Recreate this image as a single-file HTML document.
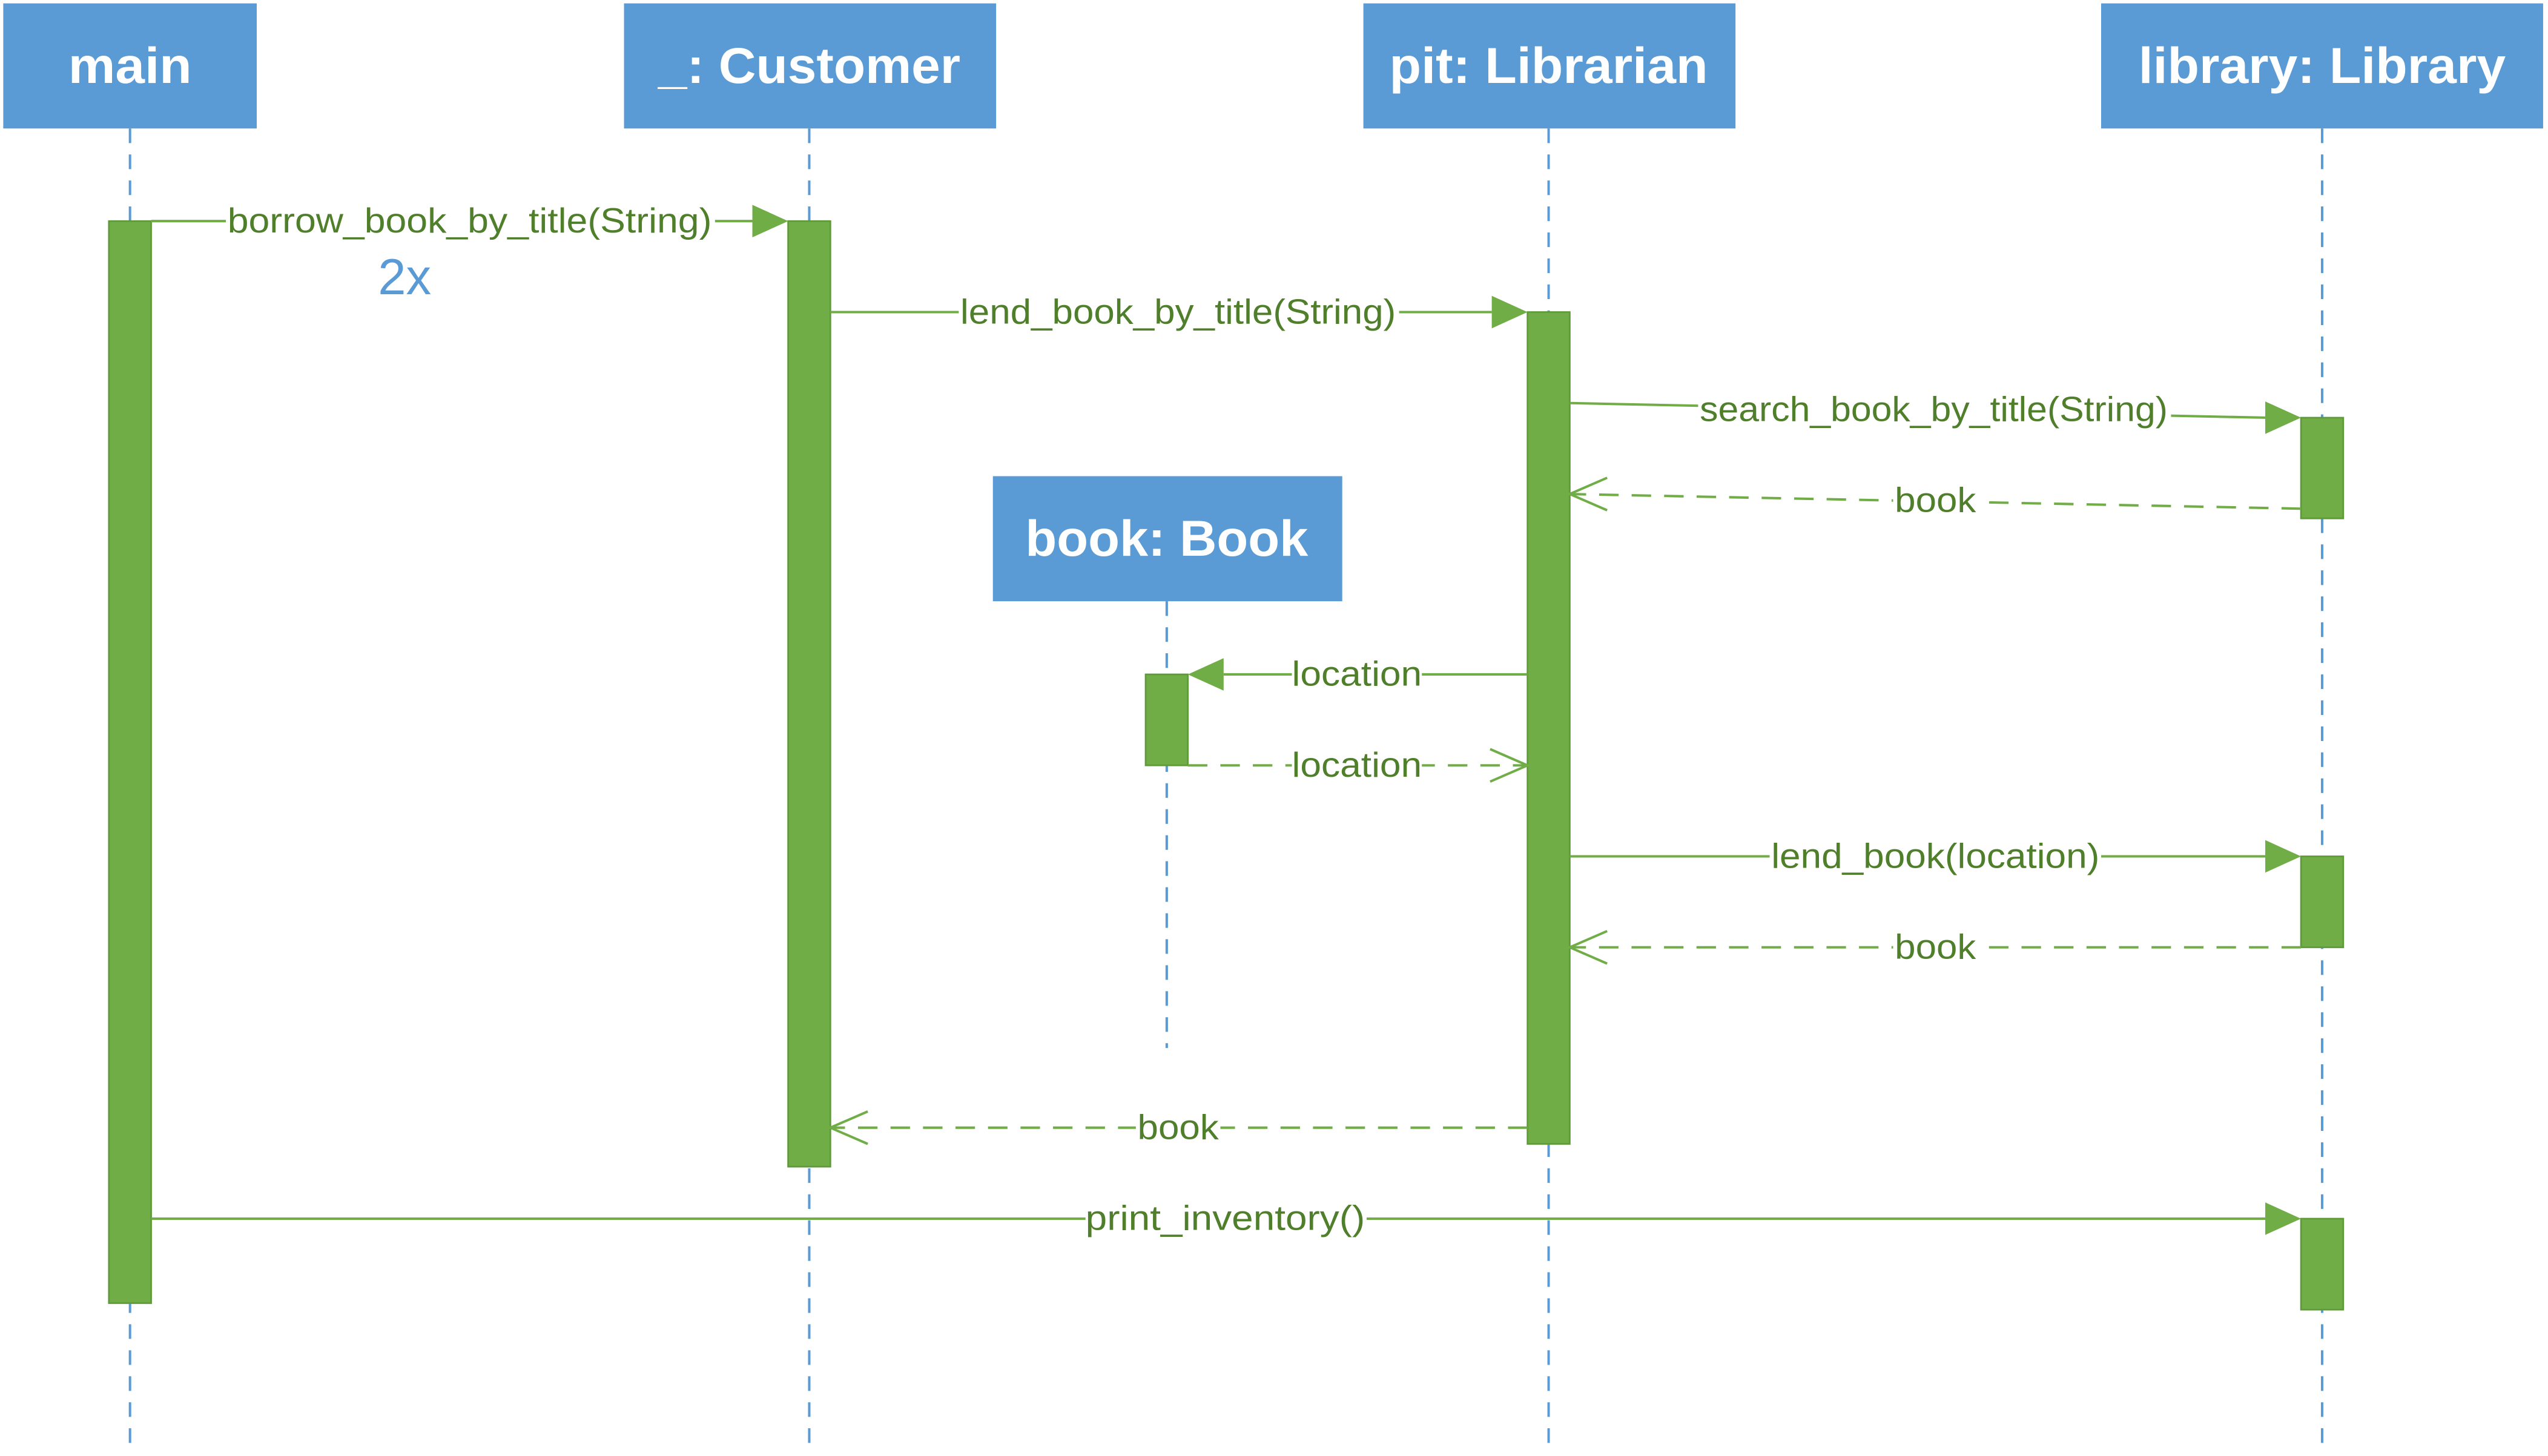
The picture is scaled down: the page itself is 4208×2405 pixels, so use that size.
<!DOCTYPE html>
<html><head><meta charset="utf-8"><style>
html,body{margin:0;padding:0;background:#fff;}
svg{display:block;}
text{font-family:"Liberation Sans",sans-serif;}
.b{font-size:31px;font-weight:bold;fill:#fff;text-anchor:middle;}
.m{font-size:21.5px;fill:#4f7f2a;text-anchor:middle;}
.ll{stroke:#5b9bd5;stroke-width:1.5;stroke-dasharray:9,7;fill:none;}
.ln{stroke:#70ad47;stroke-width:1.5;fill:none;}
.dl{stroke:#70ad47;stroke-width:1.5;fill:none;stroke-dasharray:12,8;}
.act{fill:#70ad47;stroke:#5e9a3a;stroke-width:1;}
.bg{fill:#fff;}
</style></head><body>
<svg width="4208" height="2405" viewBox="0 0 1568 896" xmlns="http://www.w3.org/2000/svg">
<rect width="1568" height="896" fill="#fff"/>
<line class="ll" x1="80" y1="79" x2="80" y2="892"/>
<line class="ll" x1="498" y1="79" x2="498" y2="892"/>
<line class="ll" x1="953" y1="79" x2="953" y2="892"/>
<line class="ll" x1="1429" y1="79" x2="1429" y2="892"/>
<line class="ll" x1="718" y1="370" x2="718" y2="645"/>
<rect x="2" y="2" width="156" height="77" fill="#5b9bd5"/>
<text class="b" x="80" y="51" textLength="76" lengthAdjust="spacingAndGlyphs">main</text>
<rect x="384" y="2" width="229" height="77" fill="#5b9bd5"/>
<text class="b" x="498" y="51" textLength="186" lengthAdjust="spacingAndGlyphs">_: Customer</text>
<rect x="839" y="2" width="229" height="77" fill="#5b9bd5"/>
<text class="b" x="953" y="51" textLength="196" lengthAdjust="spacingAndGlyphs">pit: Librarian</text>
<rect x="1293" y="2" width="272" height="77" fill="#5b9bd5"/>
<text class="b" x="1429" y="51" textLength="226" lengthAdjust="spacingAndGlyphs">library: Library</text>
<rect x="611" y="293" width="215" height="77" fill="#5b9bd5"/>
<text class="b" x="718" y="342" textLength="174" lengthAdjust="spacingAndGlyphs">book: Book</text>
<rect class="act" x="67" y="136" width="26" height="666"/>
<rect class="act" x="485" y="136" width="26" height="582"/>
<rect class="act" x="940" y="192" width="26" height="512"/>
<rect class="act" x="1416" y="257" width="26" height="62"/>
<rect class="act" x="1416" y="527" width="26" height="56"/>
<rect class="act" x="1416" y="750" width="26" height="56"/>
<rect class="act" x="705" y="415" width="26" height="56"/>

<line class="ln" x1="93" y1="136" x2="463" y2="136"/>
<polygon points="485,136 463,126 463,146" fill="#70ad47"/>
<rect class="bg" x="139" y="122" width="301" height="26"/>
<text class="m" x="289" y="143" textLength="298" lengthAdjust="spacingAndGlyphs">borrow_book_by_title(String)</text>
<text x="249" y="181" style="font-size:31px;fill:#5b9bd5;text-anchor:middle">2x</text>

<line class="ln" x1="511" y1="192" x2="918" y2="192"/>
<polygon points="940,192 918,182 918,202" fill="#70ad47"/>
<rect class="bg" x="590" y="178" width="271" height="26"/>
<text class="m" x="725" y="199" textLength="268" lengthAdjust="spacingAndGlyphs">lend_book_by_title(String)</text>

<line class="ln" x1="966" y1="248" x2="1394" y2="257"/>
<polygon points="1416,257 1394,247 1394,267" fill="#70ad47"/>
<rect class="bg" x="1045" y="238" width="291" height="26"/>
<text class="m" x="1190" y="259" textLength="288" lengthAdjust="spacingAndGlyphs">search_book_by_title(String)</text>

<line class="dl" x1="1416" y1="313" x2="966" y2="304"/>
<polyline class="ln" points="989,294 966,304 989,314"/>
<rect class="bg" x="1165" y="295" width="52" height="26"/>
<text class="m" x="1191" y="315" textLength="50" lengthAdjust="spacingAndGlyphs">book</text>

<line class="ln" x1="940" y1="415" x2="753" y2="415"/>
<polygon points="731,415 753,405 753,425" fill="#70ad47"/>
<rect class="bg" x="795" y="401" width="80" height="26"/>
<text class="m" x="835" y="422" textLength="80" lengthAdjust="spacingAndGlyphs">location</text>

<line class="dl" x1="731" y1="471" x2="940" y2="471"/>
<polyline class="ln" points="917,461 940,471 917,481"/>
<rect class="bg" x="795" y="457" width="80" height="26"/>
<text class="m" x="835" y="478" textLength="80" lengthAdjust="spacingAndGlyphs">location</text>

<line class="ln" x1="966" y1="527" x2="1394" y2="527"/>
<polygon points="1416,527 1394,517 1394,537" fill="#70ad47"/>
<rect class="bg" x="1089" y="513" width="204" height="26"/>
<text class="m" x="1191" y="534" textLength="202" lengthAdjust="spacingAndGlyphs">lend_book(location)</text>

<line class="dl" x1="1416" y1="583" x2="966" y2="583"/>
<polyline class="ln" points="989,573 966,583 989,593"/>
<rect class="bg" x="1165" y="569" width="52" height="26"/>
<text class="m" x="1191" y="590" textLength="50" lengthAdjust="spacingAndGlyphs">book</text>

<line class="dl" x1="940" y1="694" x2="511" y2="694"/>
<polyline class="ln" points="534,684 511,694 534,704"/>
<rect class="bg" x="699" y="680" width="52" height="26"/>
<text class="m" x="725" y="701" textLength="50" lengthAdjust="spacingAndGlyphs">book</text>

<line class="ln" x1="93" y1="750" x2="1394" y2="750"/>
<polygon points="1416,750 1394,740 1394,760" fill="#70ad47"/>
<rect class="bg" x="668" y="736" width="173" height="26"/>
<text class="m" x="754" y="757" textLength="172" lengthAdjust="spacingAndGlyphs">print_inventory()</text>
</svg>
</body></html>
